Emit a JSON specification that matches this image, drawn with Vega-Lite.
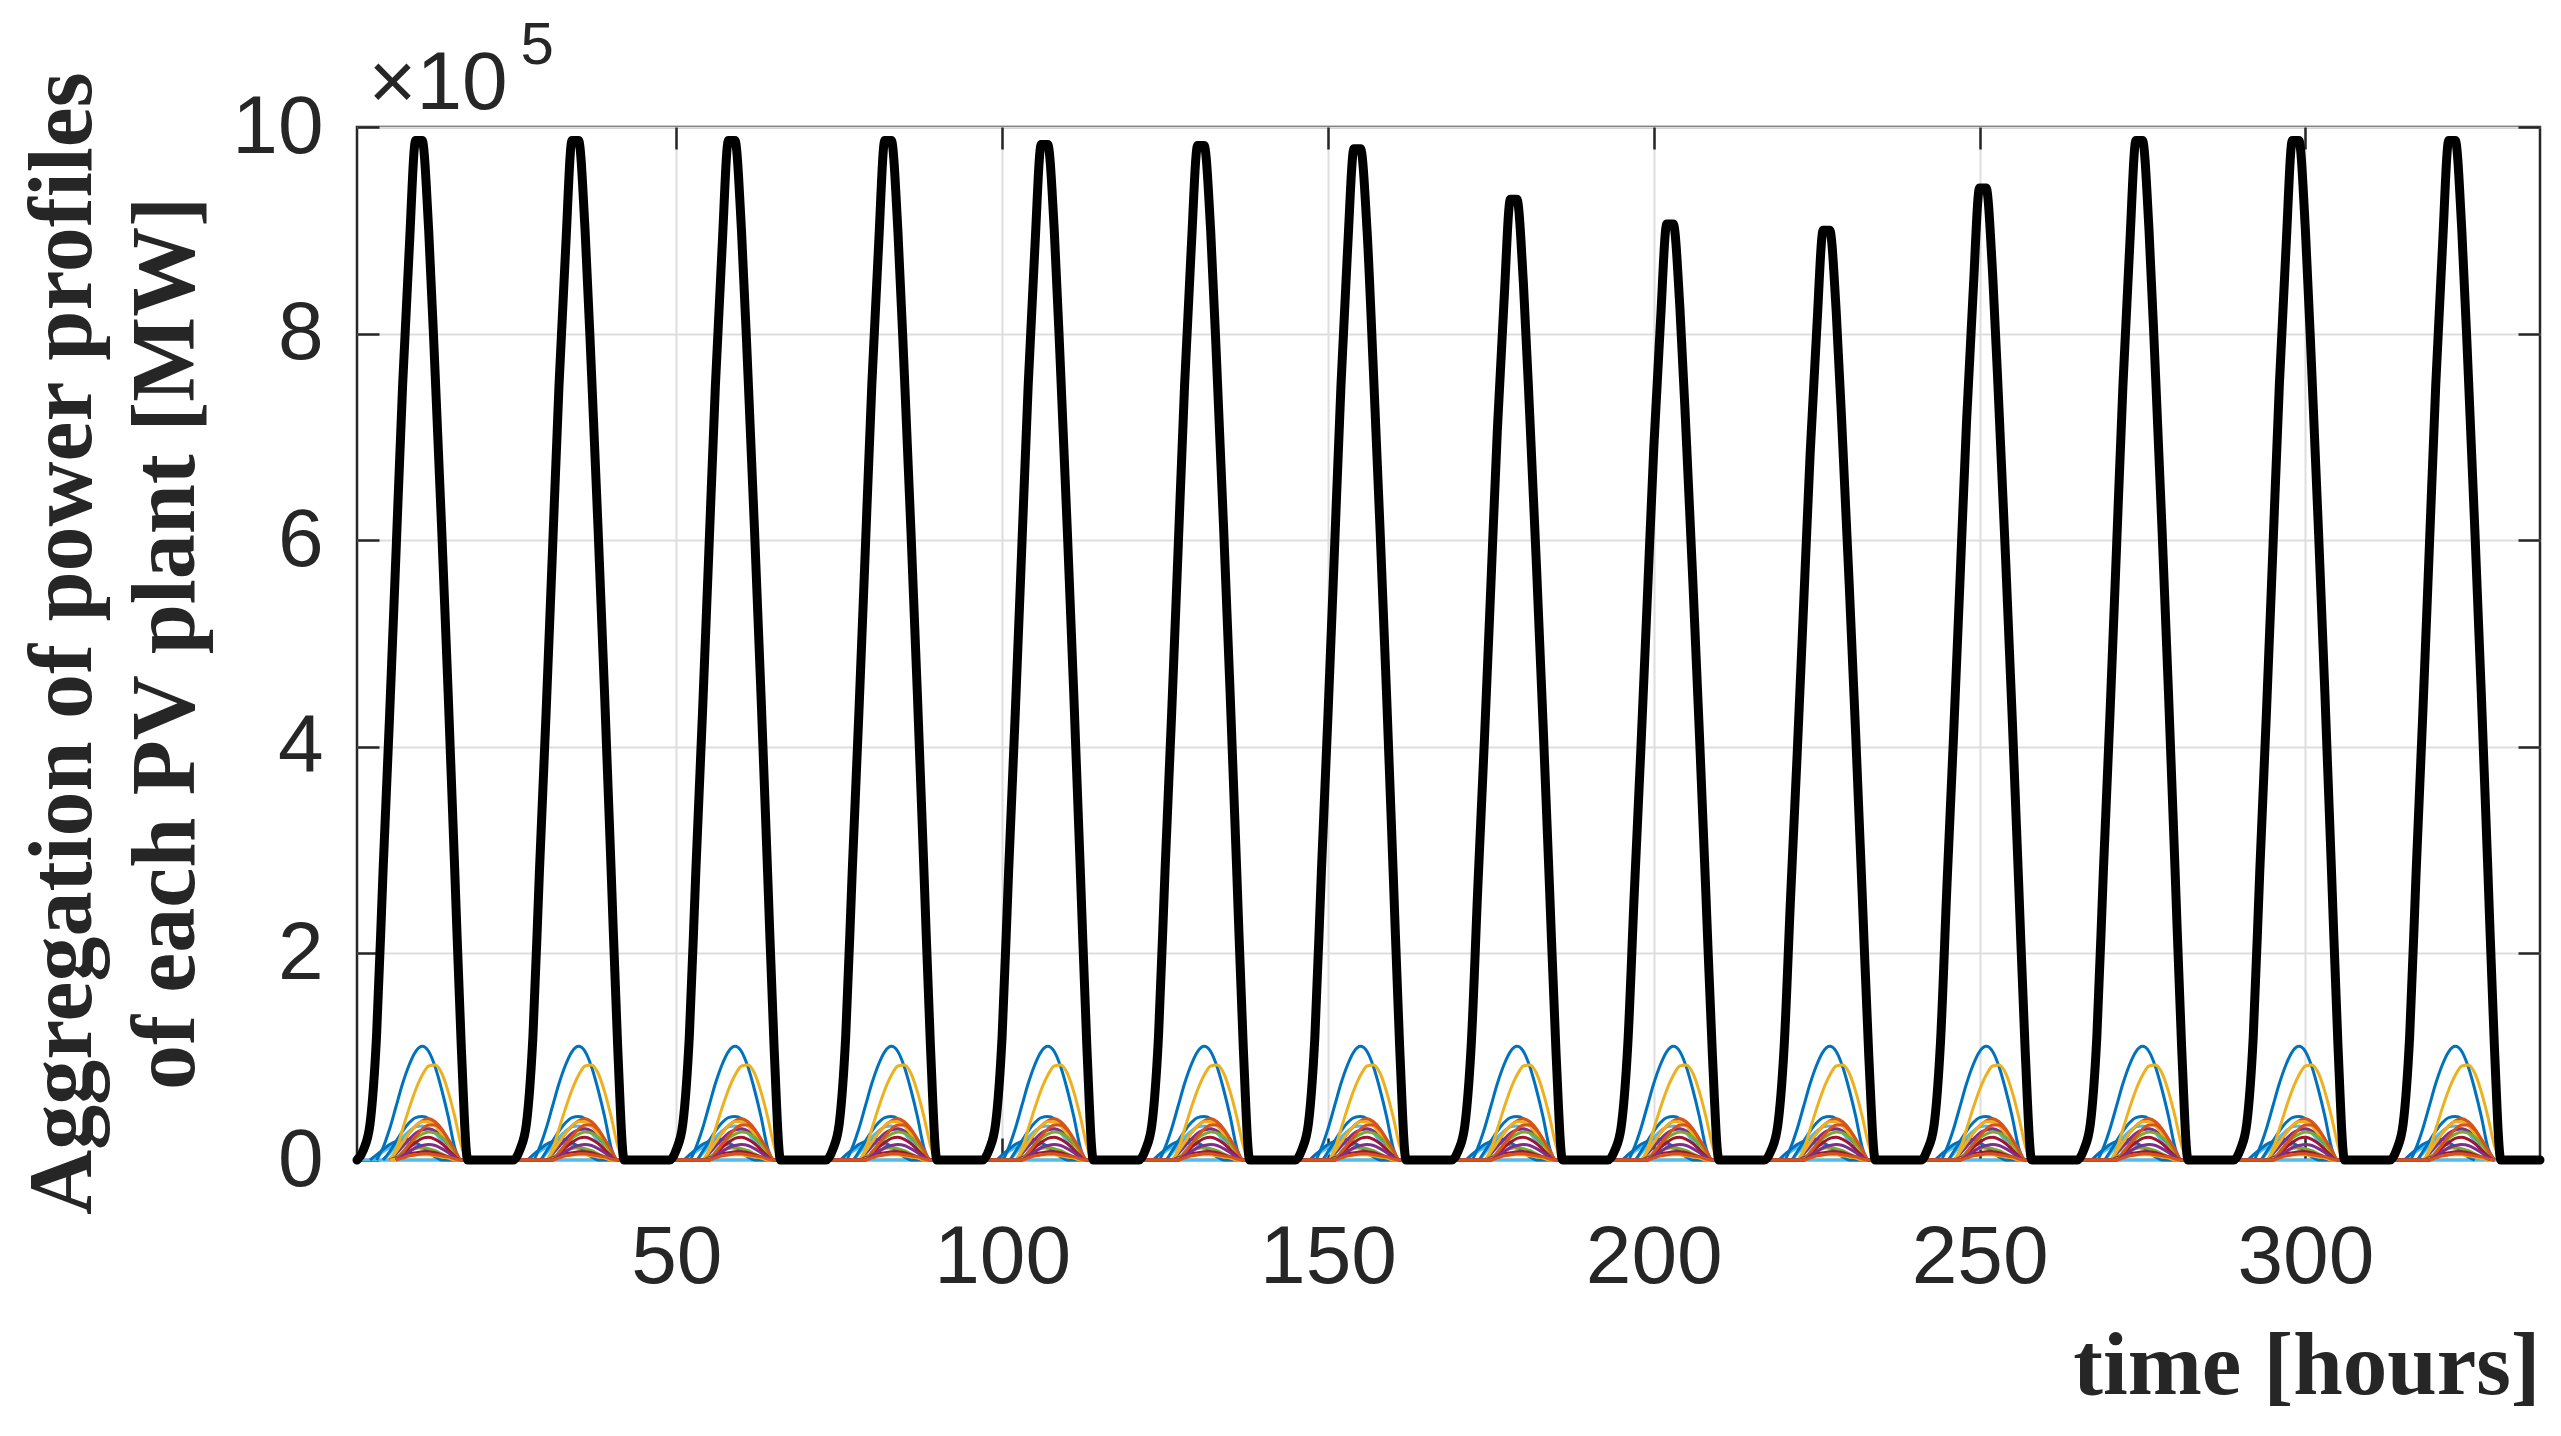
{
"$schema":"https://vega.github.io/schema/vega-lite/v6.json",
"width":2183,"height":1033,
"autosize":{"type":"none"},
"padding":{"left":357,"top":127,"right":21,"bottom":276},
"background":"white",
"config":{"view":{"stroke":"#262626","strokeWidth":2.5},"axis":{"labelFont":"Liberation Sans","labelColor":"#262626","tickColor":"#262626","tickWidth":2.5,"titleColor":"#262626"}},
"data":{"values":[
{"t":1,"P":0,"r":0},{"t":2,"P":0.1},{"t":3,"P":0.35,"m":0,"o":0},{"t":4,"P":1.2,"a":0,"m":0.04,"o":0.05},{"t":5,"P":2.8,"a":0.12,"f":0,"h":0,"m":0.08,"o":0.1},
{"t":6,"P":4.3,"a":0.3,"b":0,"c":0,"d":0,"f":0.06,"h":0.08,"j":0,"l":0,"m":0.12,"n":0,"o":0.15,"q":0},
{"t":7,"P":5.9,"a":0.52,"b":0.08,"c":0.1,"d":0.06,"e":0,"f":0.14,"g":0,"h":0.18,"i":0,"j":0.08,"k":0,"l":0.03,"m":0.15,"n":0.02,"o":0.18,"p":0,"q":0.01},
{"t":8,"P":7.5,"a":0.74,"b":0.17,"c":0.3,"d":0.13,"e":0.08,"f":0.22,"g":0.06,"h":0.28,"i":0.07,"j":0.17,"k":0.04,"l":0.06,"m":0.16,"n":0.04,"o":0.2,"p":0.02,"q":0.03},
{"t":9,"P":8.8,"a":0.92,"b":0.26,"c":0.5,"d":0.2,"e":0.15,"f":0.28,"g":0.12,"h":0.36,"i":0.15,"j":0.26,"k":0.08,"l":0.09,"m":0.16,"n":0.06,"o":0.2,"p":0.04,"q":0.04},
{"t":10,"P":9.87,"a":1.05,"b":0.33,"c":0.68,"d":0.26,"e":0.21,"f":0.32,"g":0.17,"h":0.41,"i":0.23,"j":0.33,"k":0.12,"l":0.11,"m":0.14,"n":0.07,"o":0.17,"p":0.05,"q":0.05},
{"t":11,"P":9.87,"a":1.1,"b":0.38,"c":0.82,"d":0.29,"e":0.25,"f":0.33,"g":0.21,"h":0.42,"i":0.3,"j":0.37,"k":0.14,"l":0.12,"m":0.11,"n":0.08,"o":0.13,"p":0.06,"q":0.05},
{"t":12,"P":9.0,"a":1.05,"b":0.4,"c":0.91,"d":0.3,"e":0.27,"f":0.31,"g":0.22,"h":0.4,"i":0.34,"j":0.37,"k":0.15,"l":0.11,"m":0.07,"n":0.08,"o":0.08,"p":0.06,"q":0.05},
{"t":13,"P":7.6,"a":0.9,"b":0.37,"c":0.92,"d":0.28,"e":0.26,"f":0.26,"g":0.2,"h":0.34,"i":0.34,"j":0.33,"k":0.14,"l":0.09,"m":0.03,"n":0.07,"o":0.03,"p":0.05,"q":0.04},
{"t":14,"P":6.1,"a":0.68,"b":0.3,"c":0.84,"d":0.22,"e":0.22,"f":0.18,"g":0.16,"h":0.25,"i":0.29,"j":0.25,"k":0.11,"l":0.06,"m":0,"n":0.05,"o":0,"p":0.04,"q":0.03},
{"t":15,"P":4.5,"a":0.42,"b":0.2,"c":0.66,"d":0.15,"e":0.16,"f":0.09,"g":0.1,"h":0.14,"i":0.2,"j":0.15,"k":0.07,"l":0.03,"n":0.03,"p":0.03,"q":0.02},
{"t":16,"P":2.8,"a":0.12,"b":0.09,"c":0.42,"d":0.07,"e":0.08,"f":0,"g":0.04,"h":0.03,"i":0.1,"j":0.05,"k":0.03,"l":0,"n":0.01,"p":0.01,"q":0},
{"t":17,"P":1.1,"a":0,"b":0,"c":0.14,"d":0,"e":0,"g":0,"h":0,"i":0,"j":0,"k":0,"n":0,"p":0},
{"t":18,"P":0,"c":0},{"t":19,"P":0,"r":0},{"t":20,"P":0},{"t":21,"P":0},{"t":22,"P":0},{"t":23,"P":0},{"t":24,"P":0},

{"t":25,"P":0,"r":0},{"t":26,"P":0.1},{"t":27,"P":0.35,"m":0,"o":0},{"t":28,"P":1.2,"a":0,"m":0.04,"o":0.05},{"t":29,"P":2.8,"a":0.12,"f":0,"h":0,"m":0.08,"o":0.1},
{"t":30,"P":4.3,"a":0.3,"b":0,"c":0,"d":0,"f":0.06,"h":0.08,"j":0,"l":0,"m":0.12,"n":0,"o":0.15,"q":0},
{"t":31,"P":5.9,"a":0.52,"b":0.08,"c":0.1,"d":0.06,"e":0,"f":0.14,"g":0,"h":0.18,"i":0,"j":0.08,"k":0,"l":0.03,"m":0.15,"n":0.02,"o":0.18,"p":0,"q":0.01},
{"t":32,"P":7.5,"a":0.74,"b":0.17,"c":0.3,"d":0.13,"e":0.08,"f":0.22,"g":0.06,"h":0.28,"i":0.07,"j":0.17,"k":0.04,"l":0.06,"m":0.16,"n":0.04,"o":0.2,"p":0.02,"q":0.03},
{"t":33,"P":8.8,"a":0.92,"b":0.26,"c":0.5,"d":0.2,"e":0.15,"f":0.28,"g":0.12,"h":0.36,"i":0.15,"j":0.26,"k":0.08,"l":0.09,"m":0.16,"n":0.06,"o":0.2,"p":0.04,"q":0.04},
{"t":34,"P":9.87,"a":1.05,"b":0.33,"c":0.68,"d":0.26,"e":0.21,"f":0.32,"g":0.17,"h":0.41,"i":0.23,"j":0.33,"k":0.12,"l":0.11,"m":0.14,"n":0.07,"o":0.17,"p":0.05,"q":0.05},
{"t":35,"P":9.87,"a":1.1,"b":0.38,"c":0.82,"d":0.29,"e":0.25,"f":0.33,"g":0.21,"h":0.42,"i":0.3,"j":0.37,"k":0.14,"l":0.12,"m":0.11,"n":0.08,"o":0.13,"p":0.06,"q":0.05},
{"t":36,"P":9.0,"a":1.05,"b":0.4,"c":0.91,"d":0.3,"e":0.27,"f":0.31,"g":0.22,"h":0.4,"i":0.34,"j":0.37,"k":0.15,"l":0.11,"m":0.07,"n":0.08,"o":0.08,"p":0.06,"q":0.05},
{"t":37,"P":7.6,"a":0.9,"b":0.37,"c":0.92,"d":0.28,"e":0.26,"f":0.26,"g":0.2,"h":0.34,"i":0.34,"j":0.33,"k":0.14,"l":0.09,"m":0.03,"n":0.07,"o":0.03,"p":0.05,"q":0.04},
{"t":38,"P":6.1,"a":0.68,"b":0.3,"c":0.84,"d":0.22,"e":0.22,"f":0.18,"g":0.16,"h":0.25,"i":0.29,"j":0.25,"k":0.11,"l":0.06,"m":0,"n":0.05,"o":0,"p":0.04,"q":0.03},
{"t":39,"P":4.5,"a":0.42,"b":0.2,"c":0.66,"d":0.15,"e":0.16,"f":0.09,"g":0.1,"h":0.14,"i":0.2,"j":0.15,"k":0.07,"l":0.03,"n":0.03,"p":0.03,"q":0.02},
{"t":40,"P":2.8,"a":0.12,"b":0.09,"c":0.42,"d":0.07,"e":0.08,"f":0,"g":0.04,"h":0.03,"i":0.1,"j":0.05,"k":0.03,"l":0,"n":0.01,"p":0.01,"q":0},
{"t":41,"P":1.1,"a":0,"b":0,"c":0.14,"d":0,"e":0,"g":0,"h":0,"i":0,"j":0,"k":0,"n":0,"p":0},
{"t":42,"P":0,"c":0},{"t":43,"P":0,"r":0},{"t":44,"P":0},{"t":45,"P":0},{"t":46,"P":0},{"t":47,"P":0},{"t":48,"P":0},

{"t":49,"P":0,"r":0},{"t":50,"P":0.1},{"t":51,"P":0.35,"m":0,"o":0},{"t":52,"P":1.2,"a":0,"m":0.04,"o":0.05},{"t":53,"P":2.8,"a":0.12,"f":0,"h":0,"m":0.08,"o":0.1},
{"t":54,"P":4.3,"a":0.3,"b":0,"c":0,"d":0,"f":0.06,"h":0.08,"j":0,"l":0,"m":0.12,"n":0,"o":0.15,"q":0},
{"t":55,"P":5.9,"a":0.52,"b":0.08,"c":0.1,"d":0.06,"e":0,"f":0.14,"g":0,"h":0.18,"i":0,"j":0.08,"k":0,"l":0.03,"m":0.15,"n":0.02,"o":0.18,"p":0,"q":0.01},
{"t":56,"P":7.5,"a":0.74,"b":0.17,"c":0.3,"d":0.13,"e":0.08,"f":0.22,"g":0.06,"h":0.28,"i":0.07,"j":0.17,"k":0.04,"l":0.06,"m":0.16,"n":0.04,"o":0.2,"p":0.02,"q":0.03},
{"t":57,"P":8.8,"a":0.92,"b":0.26,"c":0.5,"d":0.2,"e":0.15,"f":0.28,"g":0.12,"h":0.36,"i":0.15,"j":0.26,"k":0.08,"l":0.09,"m":0.16,"n":0.06,"o":0.2,"p":0.04,"q":0.04},
{"t":58,"P":9.87,"a":1.05,"b":0.33,"c":0.68,"d":0.26,"e":0.21,"f":0.32,"g":0.17,"h":0.41,"i":0.23,"j":0.33,"k":0.12,"l":0.11,"m":0.14,"n":0.07,"o":0.17,"p":0.05,"q":0.05},
{"t":59,"P":9.87,"a":1.1,"b":0.38,"c":0.82,"d":0.29,"e":0.25,"f":0.33,"g":0.21,"h":0.42,"i":0.3,"j":0.37,"k":0.14,"l":0.12,"m":0.11,"n":0.08,"o":0.13,"p":0.06,"q":0.05},
{"t":60,"P":9.0,"a":1.05,"b":0.4,"c":0.91,"d":0.3,"e":0.27,"f":0.31,"g":0.22,"h":0.4,"i":0.34,"j":0.37,"k":0.15,"l":0.11,"m":0.07,"n":0.08,"o":0.08,"p":0.06,"q":0.05},
{"t":61,"P":7.6,"a":0.9,"b":0.37,"c":0.92,"d":0.28,"e":0.26,"f":0.26,"g":0.2,"h":0.34,"i":0.34,"j":0.33,"k":0.14,"l":0.09,"m":0.03,"n":0.07,"o":0.03,"p":0.05,"q":0.04},
{"t":62,"P":6.1,"a":0.68,"b":0.3,"c":0.84,"d":0.22,"e":0.22,"f":0.18,"g":0.16,"h":0.25,"i":0.29,"j":0.25,"k":0.11,"l":0.06,"m":0,"n":0.05,"o":0,"p":0.04,"q":0.03},
{"t":63,"P":4.5,"a":0.42,"b":0.2,"c":0.66,"d":0.15,"e":0.16,"f":0.09,"g":0.1,"h":0.14,"i":0.2,"j":0.15,"k":0.07,"l":0.03,"n":0.03,"p":0.03,"q":0.02},
{"t":64,"P":2.8,"a":0.12,"b":0.09,"c":0.42,"d":0.07,"e":0.08,"f":0,"g":0.04,"h":0.03,"i":0.1,"j":0.05,"k":0.03,"l":0,"n":0.01,"p":0.01,"q":0},
{"t":65,"P":1.1,"a":0,"b":0,"c":0.14,"d":0,"e":0,"g":0,"h":0,"i":0,"j":0,"k":0,"n":0,"p":0},
{"t":66,"P":0,"c":0},{"t":67,"P":0,"r":0},{"t":68,"P":0},{"t":69,"P":0},{"t":70,"P":0},{"t":71,"P":0},{"t":72,"P":0},

{"t":73,"P":0,"r":0},{"t":74,"P":0.1},{"t":75,"P":0.35,"m":0,"o":0},{"t":76,"P":1.2,"a":0,"m":0.04,"o":0.05},{"t":77,"P":2.8,"a":0.12,"f":0,"h":0,"m":0.08,"o":0.1},
{"t":78,"P":4.3,"a":0.3,"b":0,"c":0,"d":0,"f":0.06,"h":0.08,"j":0,"l":0,"m":0.12,"n":0,"o":0.15,"q":0},
{"t":79,"P":5.9,"a":0.52,"b":0.08,"c":0.1,"d":0.06,"e":0,"f":0.14,"g":0,"h":0.18,"i":0,"j":0.08,"k":0,"l":0.03,"m":0.15,"n":0.02,"o":0.18,"p":0,"q":0.01},
{"t":80,"P":7.5,"a":0.74,"b":0.17,"c":0.3,"d":0.13,"e":0.08,"f":0.22,"g":0.06,"h":0.28,"i":0.07,"j":0.17,"k":0.04,"l":0.06,"m":0.16,"n":0.04,"o":0.2,"p":0.02,"q":0.03},
{"t":81,"P":8.8,"a":0.92,"b":0.26,"c":0.5,"d":0.2,"e":0.15,"f":0.28,"g":0.12,"h":0.36,"i":0.15,"j":0.26,"k":0.08,"l":0.09,"m":0.16,"n":0.06,"o":0.2,"p":0.04,"q":0.04},
{"t":82,"P":9.87,"a":1.05,"b":0.33,"c":0.68,"d":0.26,"e":0.21,"f":0.32,"g":0.17,"h":0.41,"i":0.23,"j":0.33,"k":0.12,"l":0.11,"m":0.14,"n":0.07,"o":0.17,"p":0.05,"q":0.05},
{"t":83,"P":9.87,"a":1.1,"b":0.38,"c":0.82,"d":0.29,"e":0.25,"f":0.33,"g":0.21,"h":0.42,"i":0.3,"j":0.37,"k":0.14,"l":0.12,"m":0.11,"n":0.08,"o":0.13,"p":0.06,"q":0.05},
{"t":84,"P":9.0,"a":1.05,"b":0.4,"c":0.91,"d":0.3,"e":0.27,"f":0.31,"g":0.22,"h":0.4,"i":0.34,"j":0.37,"k":0.15,"l":0.11,"m":0.07,"n":0.08,"o":0.08,"p":0.06,"q":0.05},
{"t":85,"P":7.6,"a":0.9,"b":0.37,"c":0.92,"d":0.28,"e":0.26,"f":0.26,"g":0.2,"h":0.34,"i":0.34,"j":0.33,"k":0.14,"l":0.09,"m":0.03,"n":0.07,"o":0.03,"p":0.05,"q":0.04},
{"t":86,"P":6.1,"a":0.68,"b":0.3,"c":0.84,"d":0.22,"e":0.22,"f":0.18,"g":0.16,"h":0.25,"i":0.29,"j":0.25,"k":0.11,"l":0.06,"m":0,"n":0.05,"o":0,"p":0.04,"q":0.03},
{"t":87,"P":4.5,"a":0.42,"b":0.2,"c":0.66,"d":0.15,"e":0.16,"f":0.09,"g":0.1,"h":0.14,"i":0.2,"j":0.15,"k":0.07,"l":0.03,"n":0.03,"p":0.03,"q":0.02},
{"t":88,"P":2.8,"a":0.12,"b":0.09,"c":0.42,"d":0.07,"e":0.08,"f":0,"g":0.04,"h":0.03,"i":0.1,"j":0.05,"k":0.03,"l":0,"n":0.01,"p":0.01,"q":0},
{"t":89,"P":1.1,"a":0,"b":0,"c":0.14,"d":0,"e":0,"g":0,"h":0,"i":0,"j":0,"k":0,"n":0,"p":0},
{"t":90,"P":0,"c":0},{"t":91,"P":0,"r":0},{"t":92,"P":0},{"t":93,"P":0},{"t":94,"P":0},{"t":95,"P":0},{"t":96,"P":0},

{"t":97,"P":0,"r":0},{"t":98,"P":0.1},{"t":99,"P":0.35,"m":0,"o":0},{"t":100,"P":1.2,"a":0,"m":0.04,"o":0.05},{"t":101,"P":2.8,"a":0.12,"f":0,"h":0,"m":0.08,"o":0.1},
{"t":102,"P":4.3,"a":0.3,"b":0,"c":0,"d":0,"f":0.06,"h":0.08,"j":0,"l":0,"m":0.12,"n":0,"o":0.15,"q":0},
{"t":103,"P":5.9,"a":0.52,"b":0.08,"c":0.1,"d":0.06,"e":0,"f":0.14,"g":0,"h":0.18,"i":0,"j":0.08,"k":0,"l":0.03,"m":0.15,"n":0.02,"o":0.18,"p":0,"q":0.01},
{"t":104,"P":7.5,"a":0.74,"b":0.17,"c":0.3,"d":0.13,"e":0.08,"f":0.22,"g":0.06,"h":0.28,"i":0.07,"j":0.17,"k":0.04,"l":0.06,"m":0.16,"n":0.04,"o":0.2,"p":0.02,"q":0.03},
{"t":105,"P":8.8,"a":0.92,"b":0.26,"c":0.5,"d":0.2,"e":0.15,"f":0.28,"g":0.12,"h":0.36,"i":0.15,"j":0.26,"k":0.08,"l":0.09,"m":0.16,"n":0.06,"o":0.2,"p":0.04,"q":0.04},
{"t":106,"P":9.83,"a":1.05,"b":0.33,"c":0.68,"d":0.26,"e":0.21,"f":0.32,"g":0.17,"h":0.41,"i":0.23,"j":0.33,"k":0.12,"l":0.11,"m":0.14,"n":0.07,"o":0.17,"p":0.05,"q":0.05},
{"t":107,"P":9.83,"a":1.1,"b":0.38,"c":0.82,"d":0.29,"e":0.25,"f":0.33,"g":0.21,"h":0.42,"i":0.3,"j":0.37,"k":0.14,"l":0.12,"m":0.11,"n":0.08,"o":0.13,"p":0.06,"q":0.05},
{"t":108,"P":9.0,"a":1.05,"b":0.4,"c":0.91,"d":0.3,"e":0.27,"f":0.31,"g":0.22,"h":0.4,"i":0.34,"j":0.37,"k":0.15,"l":0.11,"m":0.07,"n":0.08,"o":0.08,"p":0.06,"q":0.05},
{"t":109,"P":7.6,"a":0.9,"b":0.37,"c":0.92,"d":0.28,"e":0.26,"f":0.26,"g":0.2,"h":0.34,"i":0.34,"j":0.33,"k":0.14,"l":0.09,"m":0.03,"n":0.07,"o":0.03,"p":0.05,"q":0.04},
{"t":110,"P":6.1,"a":0.68,"b":0.3,"c":0.84,"d":0.22,"e":0.22,"f":0.18,"g":0.16,"h":0.25,"i":0.29,"j":0.25,"k":0.11,"l":0.06,"m":0,"n":0.05,"o":0,"p":0.04,"q":0.03},
{"t":111,"P":4.5,"a":0.42,"b":0.2,"c":0.66,"d":0.15,"e":0.16,"f":0.09,"g":0.1,"h":0.14,"i":0.2,"j":0.15,"k":0.07,"l":0.03,"n":0.03,"p":0.03,"q":0.02},
{"t":112,"P":2.8,"a":0.12,"b":0.09,"c":0.42,"d":0.07,"e":0.08,"f":0,"g":0.04,"h":0.03,"i":0.1,"j":0.05,"k":0.03,"l":0,"n":0.01,"p":0.01,"q":0},
{"t":113,"P":1.1,"a":0,"b":0,"c":0.14,"d":0,"e":0,"g":0,"h":0,"i":0,"j":0,"k":0,"n":0,"p":0},
{"t":114,"P":0,"c":0},{"t":115,"P":0,"r":0},{"t":116,"P":0},{"t":117,"P":0},{"t":118,"P":0},{"t":119,"P":0},{"t":120,"P":0},

{"t":121,"P":0,"r":0},{"t":122,"P":0.1},{"t":123,"P":0.35,"m":0,"o":0},{"t":124,"P":1.2,"a":0,"m":0.04,"o":0.05},{"t":125,"P":2.8,"a":0.12,"f":0,"h":0,"m":0.08,"o":0.1},
{"t":126,"P":4.3,"a":0.3,"b":0,"c":0,"d":0,"f":0.06,"h":0.08,"j":0,"l":0,"m":0.12,"n":0,"o":0.15,"q":0},
{"t":127,"P":5.9,"a":0.52,"b":0.08,"c":0.1,"d":0.06,"e":0,"f":0.14,"g":0,"h":0.18,"i":0,"j":0.08,"k":0,"l":0.03,"m":0.15,"n":0.02,"o":0.18,"p":0,"q":0.01},
{"t":128,"P":7.5,"a":0.74,"b":0.17,"c":0.3,"d":0.13,"e":0.08,"f":0.22,"g":0.06,"h":0.28,"i":0.07,"j":0.17,"k":0.04,"l":0.06,"m":0.16,"n":0.04,"o":0.2,"p":0.02,"q":0.03},
{"t":129,"P":8.8,"a":0.92,"b":0.26,"c":0.5,"d":0.2,"e":0.15,"f":0.28,"g":0.12,"h":0.36,"i":0.15,"j":0.26,"k":0.08,"l":0.09,"m":0.16,"n":0.06,"o":0.2,"p":0.04,"q":0.04},
{"t":130,"P":9.82,"a":1.05,"b":0.33,"c":0.68,"d":0.26,"e":0.21,"f":0.32,"g":0.17,"h":0.41,"i":0.23,"j":0.33,"k":0.12,"l":0.11,"m":0.14,"n":0.07,"o":0.17,"p":0.05,"q":0.05},
{"t":131,"P":9.82,"a":1.1,"b":0.38,"c":0.82,"d":0.29,"e":0.25,"f":0.33,"g":0.21,"h":0.42,"i":0.3,"j":0.37,"k":0.14,"l":0.12,"m":0.11,"n":0.08,"o":0.13,"p":0.06,"q":0.05},
{"t":132,"P":9.0,"a":1.05,"b":0.4,"c":0.91,"d":0.3,"e":0.27,"f":0.31,"g":0.22,"h":0.4,"i":0.34,"j":0.37,"k":0.15,"l":0.11,"m":0.07,"n":0.08,"o":0.08,"p":0.06,"q":0.05},
{"t":133,"P":7.6,"a":0.9,"b":0.37,"c":0.92,"d":0.28,"e":0.26,"f":0.26,"g":0.2,"h":0.34,"i":0.34,"j":0.33,"k":0.14,"l":0.09,"m":0.03,"n":0.07,"o":0.03,"p":0.05,"q":0.04},
{"t":134,"P":6.1,"a":0.68,"b":0.3,"c":0.84,"d":0.22,"e":0.22,"f":0.18,"g":0.16,"h":0.25,"i":0.29,"j":0.25,"k":0.11,"l":0.06,"m":0,"n":0.05,"o":0,"p":0.04,"q":0.03},
{"t":135,"P":4.5,"a":0.42,"b":0.2,"c":0.66,"d":0.15,"e":0.16,"f":0.09,"g":0.1,"h":0.14,"i":0.2,"j":0.15,"k":0.07,"l":0.03,"n":0.03,"p":0.03,"q":0.02},
{"t":136,"P":2.8,"a":0.12,"b":0.09,"c":0.42,"d":0.07,"e":0.08,"f":0,"g":0.04,"h":0.03,"i":0.1,"j":0.05,"k":0.03,"l":0,"n":0.01,"p":0.01,"q":0},
{"t":137,"P":1.1,"a":0,"b":0,"c":0.14,"d":0,"e":0,"g":0,"h":0,"i":0,"j":0,"k":0,"n":0,"p":0},
{"t":138,"P":0,"c":0},{"t":139,"P":0,"r":0},{"t":140,"P":0},{"t":141,"P":0},{"t":142,"P":0},{"t":143,"P":0},{"t":144,"P":0},

{"t":145,"P":0,"r":0},{"t":146,"P":0.1},{"t":147,"P":0.35,"m":0,"o":0},{"t":148,"P":1.2,"a":0,"m":0.04,"o":0.05},{"t":149,"P":2.8,"a":0.12,"f":0,"h":0,"m":0.08,"o":0.1},
{"t":150,"P":4.3,"a":0.3,"b":0,"c":0,"d":0,"f":0.06,"h":0.08,"j":0,"l":0,"m":0.12,"n":0,"o":0.15,"q":0},
{"t":151,"P":5.9,"a":0.52,"b":0.08,"c":0.1,"d":0.06,"e":0,"f":0.14,"g":0,"h":0.18,"i":0,"j":0.08,"k":0,"l":0.03,"m":0.15,"n":0.02,"o":0.18,"p":0,"q":0.01},
{"t":152,"P":7.5,"a":0.74,"b":0.17,"c":0.3,"d":0.13,"e":0.08,"f":0.22,"g":0.06,"h":0.28,"i":0.07,"j":0.17,"k":0.04,"l":0.06,"m":0.16,"n":0.04,"o":0.2,"p":0.02,"q":0.03},
{"t":153,"P":8.8,"a":0.92,"b":0.26,"c":0.5,"d":0.2,"e":0.15,"f":0.28,"g":0.12,"h":0.36,"i":0.15,"j":0.26,"k":0.08,"l":0.09,"m":0.16,"n":0.06,"o":0.2,"p":0.04,"q":0.04},
{"t":154,"P":9.79,"a":1.05,"b":0.33,"c":0.68,"d":0.26,"e":0.21,"f":0.32,"g":0.17,"h":0.41,"i":0.23,"j":0.33,"k":0.12,"l":0.11,"m":0.14,"n":0.07,"o":0.17,"p":0.05,"q":0.05},
{"t":155,"P":9.79,"a":1.1,"b":0.38,"c":0.82,"d":0.29,"e":0.25,"f":0.33,"g":0.21,"h":0.42,"i":0.3,"j":0.37,"k":0.14,"l":0.12,"m":0.11,"n":0.08,"o":0.13,"p":0.06,"q":0.05},
{"t":156,"P":9.0,"a":1.05,"b":0.4,"c":0.91,"d":0.3,"e":0.27,"f":0.31,"g":0.22,"h":0.4,"i":0.34,"j":0.37,"k":0.15,"l":0.11,"m":0.07,"n":0.08,"o":0.08,"p":0.06,"q":0.05},
{"t":157,"P":7.6,"a":0.9,"b":0.37,"c":0.92,"d":0.28,"e":0.26,"f":0.26,"g":0.2,"h":0.34,"i":0.34,"j":0.33,"k":0.14,"l":0.09,"m":0.03,"n":0.07,"o":0.03,"p":0.05,"q":0.04},
{"t":158,"P":6.1,"a":0.68,"b":0.3,"c":0.84,"d":0.22,"e":0.22,"f":0.18,"g":0.16,"h":0.25,"i":0.29,"j":0.25,"k":0.11,"l":0.06,"m":0,"n":0.05,"o":0,"p":0.04,"q":0.03},
{"t":159,"P":4.5,"a":0.42,"b":0.2,"c":0.66,"d":0.15,"e":0.16,"f":0.09,"g":0.1,"h":0.14,"i":0.2,"j":0.15,"k":0.07,"l":0.03,"n":0.03,"p":0.03,"q":0.02},
{"t":160,"P":2.8,"a":0.12,"b":0.09,"c":0.42,"d":0.07,"e":0.08,"f":0,"g":0.04,"h":0.03,"i":0.1,"j":0.05,"k":0.03,"l":0,"n":0.01,"p":0.01,"q":0},
{"t":161,"P":1.1,"a":0,"b":0,"c":0.14,"d":0,"e":0,"g":0,"h":0,"i":0,"j":0,"k":0,"n":0,"p":0},
{"t":162,"P":0,"c":0},{"t":163,"P":0,"r":0},{"t":164,"P":0},{"t":165,"P":0},{"t":166,"P":0},{"t":167,"P":0},{"t":168,"P":0},

{"t":169,"P":0,"r":0},{"t":170,"P":0.09},{"t":171,"P":0.33,"m":0,"o":0},{"t":172,"P":1.13,"a":0,"m":0.04,"o":0.05},{"t":173,"P":2.64,"a":0.12,"f":0,"h":0,"m":0.08,"o":0.1},
{"t":174,"P":4.05,"a":0.3,"b":0,"c":0,"d":0,"f":0.06,"h":0.08,"j":0,"l":0,"m":0.12,"n":0,"o":0.15,"q":0},
{"t":175,"P":5.56,"a":0.52,"b":0.08,"c":0.1,"d":0.06,"e":0,"f":0.14,"g":0,"h":0.18,"i":0,"j":0.08,"k":0,"l":0.03,"m":0.15,"n":0.02,"o":0.18,"p":0,"q":0.01},
{"t":176,"P":7.07,"a":0.74,"b":0.17,"c":0.3,"d":0.13,"e":0.08,"f":0.22,"g":0.06,"h":0.28,"i":0.07,"j":0.17,"k":0.04,"l":0.06,"m":0.16,"n":0.04,"o":0.2,"p":0.02,"q":0.03},
{"t":177,"P":8.29,"a":0.92,"b":0.26,"c":0.5,"d":0.2,"e":0.15,"f":0.28,"g":0.12,"h":0.36,"i":0.15,"j":0.26,"k":0.08,"l":0.09,"m":0.16,"n":0.06,"o":0.2,"p":0.04,"q":0.04},
{"t":178,"P":9.3,"a":1.05,"b":0.33,"c":0.68,"d":0.26,"e":0.21,"f":0.32,"g":0.17,"h":0.41,"i":0.23,"j":0.33,"k":0.12,"l":0.11,"m":0.14,"n":0.07,"o":0.17,"p":0.05,"q":0.05},
{"t":179,"P":9.3,"a":1.1,"b":0.38,"c":0.82,"d":0.29,"e":0.25,"f":0.33,"g":0.21,"h":0.42,"i":0.3,"j":0.37,"k":0.14,"l":0.12,"m":0.11,"n":0.08,"o":0.13,"p":0.06,"q":0.05},
{"t":180,"P":8.48,"a":1.05,"b":0.4,"c":0.91,"d":0.3,"e":0.27,"f":0.31,"g":0.22,"h":0.4,"i":0.34,"j":0.37,"k":0.15,"l":0.11,"m":0.07,"n":0.08,"o":0.08,"p":0.06,"q":0.05},
{"t":181,"P":7.16,"a":0.9,"b":0.37,"c":0.92,"d":0.28,"e":0.26,"f":0.26,"g":0.2,"h":0.34,"i":0.34,"j":0.33,"k":0.14,"l":0.09,"m":0.03,"n":0.07,"o":0.03,"p":0.05,"q":0.04},
{"t":182,"P":5.75,"a":0.68,"b":0.3,"c":0.84,"d":0.22,"e":0.22,"f":0.18,"g":0.16,"h":0.25,"i":0.29,"j":0.25,"k":0.11,"l":0.06,"m":0,"n":0.05,"o":0,"p":0.04,"q":0.03},
{"t":183,"P":4.24,"a":0.42,"b":0.2,"c":0.66,"d":0.15,"e":0.16,"f":0.09,"g":0.1,"h":0.14,"i":0.2,"j":0.15,"k":0.07,"l":0.03,"n":0.03,"p":0.03,"q":0.02},
{"t":184,"P":2.64,"a":0.12,"b":0.09,"c":0.42,"d":0.07,"e":0.08,"f":0,"g":0.04,"h":0.03,"i":0.1,"j":0.05,"k":0.03,"l":0,"n":0.01,"p":0.01,"q":0},
{"t":185,"P":1.04,"a":0,"b":0,"c":0.14,"d":0,"e":0,"g":0,"h":0,"i":0,"j":0,"k":0,"n":0,"p":0},
{"t":186,"P":0,"c":0},{"t":187,"P":0,"r":0},{"t":188,"P":0},{"t":189,"P":0},{"t":190,"P":0},{"t":191,"P":0},{"t":192,"P":0},

{"t":193,"P":0,"r":0},{"t":194,"P":0.09},{"t":195,"P":0.32,"m":0,"o":0},{"t":196,"P":1.1,"a":0,"m":0.04,"o":0.05},{"t":197,"P":2.57,"a":0.12,"f":0,"h":0,"m":0.08,"o":0.1},
{"t":198,"P":3.95,"a":0.3,"b":0,"c":0,"d":0,"f":0.06,"h":0.08,"j":0,"l":0,"m":0.12,"n":0,"o":0.15,"q":0},
{"t":199,"P":5.42,"a":0.52,"b":0.08,"c":0.1,"d":0.06,"e":0,"f":0.14,"g":0,"h":0.18,"i":0,"j":0.08,"k":0,"l":0.03,"m":0.15,"n":0.02,"o":0.18,"p":0,"q":0.01},
{"t":200,"P":6.89,"a":0.74,"b":0.17,"c":0.3,"d":0.13,"e":0.08,"f":0.22,"g":0.06,"h":0.28,"i":0.07,"j":0.17,"k":0.04,"l":0.06,"m":0.16,"n":0.04,"o":0.2,"p":0.02,"q":0.03},
{"t":201,"P":8.08,"a":0.92,"b":0.26,"c":0.5,"d":0.2,"e":0.15,"f":0.28,"g":0.12,"h":0.36,"i":0.15,"j":0.26,"k":0.08,"l":0.09,"m":0.16,"n":0.06,"o":0.2,"p":0.04,"q":0.04},
{"t":202,"P":9.06,"a":1.05,"b":0.33,"c":0.68,"d":0.26,"e":0.21,"f":0.32,"g":0.17,"h":0.41,"i":0.23,"j":0.33,"k":0.12,"l":0.11,"m":0.14,"n":0.07,"o":0.17,"p":0.05,"q":0.05},
{"t":203,"P":9.06,"a":1.1,"b":0.38,"c":0.82,"d":0.29,"e":0.25,"f":0.33,"g":0.21,"h":0.42,"i":0.3,"j":0.37,"k":0.14,"l":0.12,"m":0.11,"n":0.08,"o":0.13,"p":0.06,"q":0.05},
{"t":204,"P":8.26,"a":1.05,"b":0.4,"c":0.91,"d":0.3,"e":0.27,"f":0.31,"g":0.22,"h":0.4,"i":0.34,"j":0.37,"k":0.15,"l":0.11,"m":0.07,"n":0.08,"o":0.08,"p":0.06,"q":0.05},
{"t":205,"P":6.98,"a":0.9,"b":0.37,"c":0.92,"d":0.28,"e":0.26,"f":0.26,"g":0.2,"h":0.34,"i":0.34,"j":0.33,"k":0.14,"l":0.09,"m":0.03,"n":0.07,"o":0.03,"p":0.05,"q":0.04},
{"t":206,"P":5.6,"a":0.68,"b":0.3,"c":0.84,"d":0.22,"e":0.22,"f":0.18,"g":0.16,"h":0.25,"i":0.29,"j":0.25,"k":0.11,"l":0.06,"m":0,"n":0.05,"o":0,"p":0.04,"q":0.03},
{"t":207,"P":4.13,"a":0.42,"b":0.2,"c":0.66,"d":0.15,"e":0.16,"f":0.09,"g":0.1,"h":0.14,"i":0.2,"j":0.15,"k":0.07,"l":0.03,"n":0.03,"p":0.03,"q":0.02},
{"t":208,"P":2.57,"a":0.12,"b":0.09,"c":0.42,"d":0.07,"e":0.08,"f":0,"g":0.04,"h":0.03,"i":0.1,"j":0.05,"k":0.03,"l":0,"n":0.01,"p":0.01,"q":0},
{"t":209,"P":1.01,"a":0,"b":0,"c":0.14,"d":0,"e":0,"g":0,"h":0,"i":0,"j":0,"k":0,"n":0,"p":0},
{"t":210,"P":0,"c":0},{"t":211,"P":0,"r":0},{"t":212,"P":0},{"t":213,"P":0},{"t":214,"P":0},{"t":215,"P":0},{"t":216,"P":0},

{"t":217,"P":0,"r":0},{"t":218,"P":0.09},{"t":219,"P":0.32,"m":0,"o":0},{"t":220,"P":1.09,"a":0,"m":0.04,"o":0.05},{"t":221,"P":2.55,"a":0.12,"f":0,"h":0,"m":0.08,"o":0.1},
{"t":222,"P":3.92,"a":0.3,"b":0,"c":0,"d":0,"f":0.06,"h":0.08,"j":0,"l":0,"m":0.12,"n":0,"o":0.15,"q":0},
{"t":223,"P":5.38,"a":0.52,"b":0.08,"c":0.1,"d":0.06,"e":0,"f":0.14,"g":0,"h":0.18,"i":0,"j":0.08,"k":0,"l":0.03,"m":0.15,"n":0.02,"o":0.18,"p":0,"q":0.01},
{"t":224,"P":6.84,"a":0.74,"b":0.17,"c":0.3,"d":0.13,"e":0.08,"f":0.22,"g":0.06,"h":0.28,"i":0.07,"j":0.17,"k":0.04,"l":0.06,"m":0.16,"n":0.04,"o":0.2,"p":0.02,"q":0.03},
{"t":225,"P":8.03,"a":0.92,"b":0.26,"c":0.5,"d":0.2,"e":0.15,"f":0.28,"g":0.12,"h":0.36,"i":0.15,"j":0.26,"k":0.08,"l":0.09,"m":0.16,"n":0.06,"o":0.2,"p":0.04,"q":0.04},
{"t":226,"P":9.0,"a":1.05,"b":0.33,"c":0.68,"d":0.26,"e":0.21,"f":0.32,"g":0.17,"h":0.41,"i":0.23,"j":0.33,"k":0.12,"l":0.11,"m":0.14,"n":0.07,"o":0.17,"p":0.05,"q":0.05},
{"t":227,"P":9.0,"a":1.1,"b":0.38,"c":0.82,"d":0.29,"e":0.25,"f":0.33,"g":0.21,"h":0.42,"i":0.3,"j":0.37,"k":0.14,"l":0.12,"m":0.11,"n":0.08,"o":0.13,"p":0.06,"q":0.05},
{"t":228,"P":8.21,"a":1.05,"b":0.4,"c":0.91,"d":0.3,"e":0.27,"f":0.31,"g":0.22,"h":0.4,"i":0.34,"j":0.37,"k":0.15,"l":0.11,"m":0.07,"n":0.08,"o":0.08,"p":0.06,"q":0.05},
{"t":229,"P":6.93,"a":0.9,"b":0.37,"c":0.92,"d":0.28,"e":0.26,"f":0.26,"g":0.2,"h":0.34,"i":0.34,"j":0.33,"k":0.14,"l":0.09,"m":0.03,"n":0.07,"o":0.03,"p":0.05,"q":0.04},
{"t":230,"P":5.56,"a":0.68,"b":0.3,"c":0.84,"d":0.22,"e":0.22,"f":0.18,"g":0.16,"h":0.25,"i":0.29,"j":0.25,"k":0.11,"l":0.06,"m":0,"n":0.05,"o":0,"p":0.04,"q":0.03},
{"t":231,"P":4.1,"a":0.42,"b":0.2,"c":0.66,"d":0.15,"e":0.16,"f":0.09,"g":0.1,"h":0.14,"i":0.2,"j":0.15,"k":0.07,"l":0.03,"n":0.03,"p":0.03,"q":0.02},
{"t":232,"P":2.55,"a":0.12,"b":0.09,"c":0.42,"d":0.07,"e":0.08,"f":0,"g":0.04,"h":0.03,"i":0.1,"j":0.05,"k":0.03,"l":0,"n":0.01,"p":0.01,"q":0},
{"t":233,"P":1.0,"a":0,"b":0,"c":0.14,"d":0,"e":0,"g":0,"h":0,"i":0,"j":0,"k":0,"n":0,"p":0},
{"t":234,"P":0,"c":0},{"t":235,"P":0,"r":0},{"t":236,"P":0},{"t":237,"P":0},{"t":238,"P":0},{"t":239,"P":0},{"t":240,"P":0},

{"t":241,"P":0,"r":0},{"t":242,"P":0.1},{"t":243,"P":0.33,"m":0,"o":0},{"t":244,"P":1.14,"a":0,"m":0.04,"o":0.05},{"t":245,"P":2.67,"a":0.12,"f":0,"h":0,"m":0.08,"o":0.1},
{"t":246,"P":4.1,"a":0.3,"b":0,"c":0,"d":0,"f":0.06,"h":0.08,"j":0,"l":0,"m":0.12,"n":0,"o":0.15,"q":0},
{"t":247,"P":5.62,"a":0.52,"b":0.08,"c":0.1,"d":0.06,"e":0,"f":0.14,"g":0,"h":0.18,"i":0,"j":0.08,"k":0,"l":0.03,"m":0.15,"n":0.02,"o":0.18,"p":0,"q":0.01},
{"t":248,"P":7.15,"a":0.74,"b":0.17,"c":0.3,"d":0.13,"e":0.08,"f":0.22,"g":0.06,"h":0.28,"i":0.07,"j":0.17,"k":0.04,"l":0.06,"m":0.16,"n":0.04,"o":0.2,"p":0.02,"q":0.03},
{"t":249,"P":8.39,"a":0.92,"b":0.26,"c":0.5,"d":0.2,"e":0.15,"f":0.28,"g":0.12,"h":0.36,"i":0.15,"j":0.26,"k":0.08,"l":0.09,"m":0.16,"n":0.06,"o":0.2,"p":0.04,"q":0.04},
{"t":250,"P":9.41,"a":1.05,"b":0.33,"c":0.68,"d":0.26,"e":0.21,"f":0.32,"g":0.17,"h":0.41,"i":0.23,"j":0.33,"k":0.12,"l":0.11,"m":0.14,"n":0.07,"o":0.17,"p":0.05,"q":0.05},
{"t":251,"P":9.41,"a":1.1,"b":0.38,"c":0.82,"d":0.29,"e":0.25,"f":0.33,"g":0.21,"h":0.42,"i":0.3,"j":0.37,"k":0.14,"l":0.12,"m":0.11,"n":0.08,"o":0.13,"p":0.06,"q":0.05},
{"t":252,"P":8.58,"a":1.05,"b":0.4,"c":0.91,"d":0.3,"e":0.27,"f":0.31,"g":0.22,"h":0.4,"i":0.34,"j":0.37,"k":0.15,"l":0.11,"m":0.07,"n":0.08,"o":0.08,"p":0.06,"q":0.05},
{"t":253,"P":7.24,"a":0.9,"b":0.37,"c":0.92,"d":0.28,"e":0.26,"f":0.26,"g":0.2,"h":0.34,"i":0.34,"j":0.33,"k":0.14,"l":0.09,"m":0.03,"n":0.07,"o":0.03,"p":0.05,"q":0.04},
{"t":254,"P":5.81,"a":0.68,"b":0.3,"c":0.84,"d":0.22,"e":0.22,"f":0.18,"g":0.16,"h":0.25,"i":0.29,"j":0.25,"k":0.11,"l":0.06,"m":0,"n":0.05,"o":0,"p":0.04,"q":0.03},
{"t":255,"P":4.29,"a":0.42,"b":0.2,"c":0.66,"d":0.15,"e":0.16,"f":0.09,"g":0.1,"h":0.14,"i":0.2,"j":0.15,"k":0.07,"l":0.03,"n":0.03,"p":0.03,"q":0.02},
{"t":256,"P":2.67,"a":0.12,"b":0.09,"c":0.42,"d":0.07,"e":0.08,"f":0,"g":0.04,"h":0.03,"i":0.1,"j":0.05,"k":0.03,"l":0,"n":0.01,"p":0.01,"q":0},
{"t":257,"P":1.05,"a":0,"b":0,"c":0.14,"d":0,"e":0,"g":0,"h":0,"i":0,"j":0,"k":0,"n":0,"p":0},
{"t":258,"P":0,"c":0},{"t":259,"P":0,"r":0},{"t":260,"P":0},{"t":261,"P":0},{"t":262,"P":0},{"t":263,"P":0},{"t":264,"P":0},

{"t":265,"P":0,"r":0},{"t":266,"P":0.1},{"t":267,"P":0.35,"m":0,"o":0},{"t":268,"P":1.2,"a":0,"m":0.04,"o":0.05},{"t":269,"P":2.8,"a":0.12,"f":0,"h":0,"m":0.08,"o":0.1},
{"t":270,"P":4.3,"a":0.3,"b":0,"c":0,"d":0,"f":0.06,"h":0.08,"j":0,"l":0,"m":0.12,"n":0,"o":0.15,"q":0},
{"t":271,"P":5.9,"a":0.52,"b":0.08,"c":0.1,"d":0.06,"e":0,"f":0.14,"g":0,"h":0.18,"i":0,"j":0.08,"k":0,"l":0.03,"m":0.15,"n":0.02,"o":0.18,"p":0,"q":0.01},
{"t":272,"P":7.5,"a":0.74,"b":0.17,"c":0.3,"d":0.13,"e":0.08,"f":0.22,"g":0.06,"h":0.28,"i":0.07,"j":0.17,"k":0.04,"l":0.06,"m":0.16,"n":0.04,"o":0.2,"p":0.02,"q":0.03},
{"t":273,"P":8.8,"a":0.92,"b":0.26,"c":0.5,"d":0.2,"e":0.15,"f":0.28,"g":0.12,"h":0.36,"i":0.15,"j":0.26,"k":0.08,"l":0.09,"m":0.16,"n":0.06,"o":0.2,"p":0.04,"q":0.04},
{"t":274,"P":9.87,"a":1.05,"b":0.33,"c":0.68,"d":0.26,"e":0.21,"f":0.32,"g":0.17,"h":0.41,"i":0.23,"j":0.33,"k":0.12,"l":0.11,"m":0.14,"n":0.07,"o":0.17,"p":0.05,"q":0.05},
{"t":275,"P":9.87,"a":1.1,"b":0.38,"c":0.82,"d":0.29,"e":0.25,"f":0.33,"g":0.21,"h":0.42,"i":0.3,"j":0.37,"k":0.14,"l":0.12,"m":0.11,"n":0.08,"o":0.13,"p":0.06,"q":0.05},
{"t":276,"P":9.0,"a":1.05,"b":0.4,"c":0.91,"d":0.3,"e":0.27,"f":0.31,"g":0.22,"h":0.4,"i":0.34,"j":0.37,"k":0.15,"l":0.11,"m":0.07,"n":0.08,"o":0.08,"p":0.06,"q":0.05},
{"t":277,"P":7.6,"a":0.9,"b":0.37,"c":0.92,"d":0.28,"e":0.26,"f":0.26,"g":0.2,"h":0.34,"i":0.34,"j":0.33,"k":0.14,"l":0.09,"m":0.03,"n":0.07,"o":0.03,"p":0.05,"q":0.04},
{"t":278,"P":6.1,"a":0.68,"b":0.3,"c":0.84,"d":0.22,"e":0.22,"f":0.18,"g":0.16,"h":0.25,"i":0.29,"j":0.25,"k":0.11,"l":0.06,"m":0,"n":0.05,"o":0,"p":0.04,"q":0.03},
{"t":279,"P":4.5,"a":0.42,"b":0.2,"c":0.66,"d":0.15,"e":0.16,"f":0.09,"g":0.1,"h":0.14,"i":0.2,"j":0.15,"k":0.07,"l":0.03,"n":0.03,"p":0.03,"q":0.02},
{"t":280,"P":2.8,"a":0.12,"b":0.09,"c":0.42,"d":0.07,"e":0.08,"f":0,"g":0.04,"h":0.03,"i":0.1,"j":0.05,"k":0.03,"l":0,"n":0.01,"p":0.01,"q":0},
{"t":281,"P":1.1,"a":0,"b":0,"c":0.14,"d":0,"e":0,"g":0,"h":0,"i":0,"j":0,"k":0,"n":0,"p":0},
{"t":282,"P":0,"c":0},{"t":283,"P":0,"r":0},{"t":284,"P":0},{"t":285,"P":0},{"t":286,"P":0},{"t":287,"P":0},{"t":288,"P":0},

{"t":289,"P":0,"r":0},{"t":290,"P":0.1},{"t":291,"P":0.35,"m":0,"o":0},{"t":292,"P":1.2,"a":0,"m":0.04,"o":0.05},{"t":293,"P":2.8,"a":0.12,"f":0,"h":0,"m":0.08,"o":0.1},
{"t":294,"P":4.3,"a":0.3,"b":0,"c":0,"d":0,"f":0.06,"h":0.08,"j":0,"l":0,"m":0.12,"n":0,"o":0.15,"q":0},
{"t":295,"P":5.9,"a":0.52,"b":0.08,"c":0.1,"d":0.06,"e":0,"f":0.14,"g":0,"h":0.18,"i":0,"j":0.08,"k":0,"l":0.03,"m":0.15,"n":0.02,"o":0.18,"p":0,"q":0.01},
{"t":296,"P":7.5,"a":0.74,"b":0.17,"c":0.3,"d":0.13,"e":0.08,"f":0.22,"g":0.06,"h":0.28,"i":0.07,"j":0.17,"k":0.04,"l":0.06,"m":0.16,"n":0.04,"o":0.2,"p":0.02,"q":0.03},
{"t":297,"P":8.8,"a":0.92,"b":0.26,"c":0.5,"d":0.2,"e":0.15,"f":0.28,"g":0.12,"h":0.36,"i":0.15,"j":0.26,"k":0.08,"l":0.09,"m":0.16,"n":0.06,"o":0.2,"p":0.04,"q":0.04},
{"t":298,"P":9.87,"a":1.05,"b":0.33,"c":0.68,"d":0.26,"e":0.21,"f":0.32,"g":0.17,"h":0.41,"i":0.23,"j":0.33,"k":0.12,"l":0.11,"m":0.14,"n":0.07,"o":0.17,"p":0.05,"q":0.05},
{"t":299,"P":9.87,"a":1.1,"b":0.38,"c":0.82,"d":0.29,"e":0.25,"f":0.33,"g":0.21,"h":0.42,"i":0.3,"j":0.37,"k":0.14,"l":0.12,"m":0.11,"n":0.08,"o":0.13,"p":0.06,"q":0.05},
{"t":300,"P":9.0,"a":1.05,"b":0.4,"c":0.91,"d":0.3,"e":0.27,"f":0.31,"g":0.22,"h":0.4,"i":0.34,"j":0.37,"k":0.15,"l":0.11,"m":0.07,"n":0.08,"o":0.08,"p":0.06,"q":0.05},
{"t":301,"P":7.6,"a":0.9,"b":0.37,"c":0.92,"d":0.28,"e":0.26,"f":0.26,"g":0.2,"h":0.34,"i":0.34,"j":0.33,"k":0.14,"l":0.09,"m":0.03,"n":0.07,"o":0.03,"p":0.05,"q":0.04},
{"t":302,"P":6.1,"a":0.68,"b":0.3,"c":0.84,"d":0.22,"e":0.22,"f":0.18,"g":0.16,"h":0.25,"i":0.29,"j":0.25,"k":0.11,"l":0.06,"m":0,"n":0.05,"o":0,"p":0.04,"q":0.03},
{"t":303,"P":4.5,"a":0.42,"b":0.2,"c":0.66,"d":0.15,"e":0.16,"f":0.09,"g":0.1,"h":0.14,"i":0.2,"j":0.15,"k":0.07,"l":0.03,"n":0.03,"p":0.03,"q":0.02},
{"t":304,"P":2.8,"a":0.12,"b":0.09,"c":0.42,"d":0.07,"e":0.08,"f":0,"g":0.04,"h":0.03,"i":0.1,"j":0.05,"k":0.03,"l":0,"n":0.01,"p":0.01,"q":0},
{"t":305,"P":1.1,"a":0,"b":0,"c":0.14,"d":0,"e":0,"g":0,"h":0,"i":0,"j":0,"k":0,"n":0,"p":0},
{"t":306,"P":0,"c":0},{"t":307,"P":0,"r":0},{"t":308,"P":0},{"t":309,"P":0},{"t":310,"P":0},{"t":311,"P":0},{"t":312,"P":0},

{"t":313,"P":0,"r":0},{"t":314,"P":0.1},{"t":315,"P":0.35,"m":0,"o":0},{"t":316,"P":1.2,"a":0,"m":0.04,"o":0.05},{"t":317,"P":2.8,"a":0.12,"f":0,"h":0,"m":0.08,"o":0.1},
{"t":318,"P":4.3,"a":0.3,"b":0,"c":0,"d":0,"f":0.06,"h":0.08,"j":0,"l":0,"m":0.12,"n":0,"o":0.15,"q":0},
{"t":319,"P":5.9,"a":0.52,"b":0.08,"c":0.1,"d":0.06,"e":0,"f":0.14,"g":0,"h":0.18,"i":0,"j":0.08,"k":0,"l":0.03,"m":0.15,"n":0.02,"o":0.18,"p":0,"q":0.01},
{"t":320,"P":7.5,"a":0.74,"b":0.17,"c":0.3,"d":0.13,"e":0.08,"f":0.22,"g":0.06,"h":0.28,"i":0.07,"j":0.17,"k":0.04,"l":0.06,"m":0.16,"n":0.04,"o":0.2,"p":0.02,"q":0.03},
{"t":321,"P":8.8,"a":0.92,"b":0.26,"c":0.5,"d":0.2,"e":0.15,"f":0.28,"g":0.12,"h":0.36,"i":0.15,"j":0.26,"k":0.08,"l":0.09,"m":0.16,"n":0.06,"o":0.2,"p":0.04,"q":0.04},
{"t":322,"P":9.87,"a":1.05,"b":0.33,"c":0.68,"d":0.26,"e":0.21,"f":0.32,"g":0.17,"h":0.41,"i":0.23,"j":0.33,"k":0.12,"l":0.11,"m":0.14,"n":0.07,"o":0.17,"p":0.05,"q":0.05},
{"t":323,"P":9.87,"a":1.1,"b":0.38,"c":0.82,"d":0.29,"e":0.25,"f":0.33,"g":0.21,"h":0.42,"i":0.3,"j":0.37,"k":0.14,"l":0.12,"m":0.11,"n":0.08,"o":0.13,"p":0.06,"q":0.05},
{"t":324,"P":9.0,"a":1.05,"b":0.4,"c":0.91,"d":0.3,"e":0.27,"f":0.31,"g":0.22,"h":0.4,"i":0.34,"j":0.37,"k":0.15,"l":0.11,"m":0.07,"n":0.08,"o":0.08,"p":0.06,"q":0.05},
{"t":325,"P":7.6,"a":0.9,"b":0.37,"c":0.92,"d":0.28,"e":0.26,"f":0.26,"g":0.2,"h":0.34,"i":0.34,"j":0.33,"k":0.14,"l":0.09,"m":0.03,"n":0.07,"o":0.03,"p":0.05,"q":0.04},
{"t":326,"P":6.1,"a":0.68,"b":0.3,"c":0.84,"d":0.22,"e":0.22,"f":0.18,"g":0.16,"h":0.25,"i":0.29,"j":0.25,"k":0.11,"l":0.06,"m":0,"n":0.05,"o":0,"p":0.04,"q":0.03},
{"t":327,"P":4.5,"a":0.42,"b":0.2,"c":0.66,"d":0.15,"e":0.16,"f":0.09,"g":0.1,"h":0.14,"i":0.2,"j":0.15,"k":0.07,"l":0.03,"n":0.03,"p":0.03,"q":0.02},
{"t":328,"P":2.8,"a":0.12,"b":0.09,"c":0.42,"d":0.07,"e":0.08,"f":0,"g":0.04,"h":0.03,"i":0.1,"j":0.05,"k":0.03,"l":0,"n":0.01,"p":0.01,"q":0},
{"t":329,"P":1.1,"a":0,"b":0,"c":0.14,"d":0,"e":0,"g":0,"h":0,"i":0,"j":0,"k":0,"n":0,"p":0},
{"t":330,"P":0,"c":0},{"t":331,"P":0,"r":0},{"t":332,"P":0},{"t":333,"P":0},{"t":334,"P":0},{"t":335,"P":0},{"t":336,"P":0,"r":0}
]},
"layer":[
{"transform":[{"fold":["a","b","c","d","e","f","g","h","i","j","k","l","m","n","o","p","q","r"],"as":["s","v"]},{"filter":"isValid(datum.v)"}],
 "mark":{"type":"line","interpolate":"monotone","strokeWidth":3},
 "encoding":{
  "x":{"field":"t","type":"quantitative","scale":{"domain":[1,336],"nice":false,"zero":false},
   "axis":{"orient":"bottom","values":[50,100,150,200,250,300],"grid":true,"gridColor":"#dedede","gridWidth":2,"domain":false,"ticks":true,"tickSize":-22,"labelFontSize":82,"labelPadding":144,"labelBaseline":"alphabetic","title":"time [hours]","titleFont":"Liberation Serif","titleFontWeight":"bold","titleFontSize":89,"titleX":2183,"titleY":233,"titleAlign":"right","titleAnchor":null,"titleBaseline":"alphabetic"}},
  "y":{"field":"v","type":"quantitative","scale":{"domain":[0,10],"nice":false},
   "axis":{"orient":"left","values":[0,2,4,6,8,10],"grid":true,"gridColor":"#dedede","gridWidth":2,"domain":false,"ticks":true,"tickSize":-22,"labelFontSize":82,"labelPadding":56,"labelBaseline":"middle","title":["Aggregation of power profiles","of each PV plant [MW]"],"titleFont":"Liberation Serif","titleFontWeight":"bold","titleFontSize":90,"titleLineHeight":103,"titleAngle":-90,"titleX":-267,"titleY":516,"titleAlign":"center","titleBaseline":"alphabetic"}},
  "color":{"field":"s","type":"nominal","legend":null,"scale":{"domain":["a","b","c","d","e","f","g","h","i","j","k","l","m","n","o","p","q","r"],"range":["#0072BD","#D95319","#EDB120","#7E2F8E","#77AC30","#4DBEEE","#A2142F","#0072BD","#D95319","#EDB120","#7E2F8E","#77AC30","#4DBEEE","#A2142F","#0072BD","#D95319","#EDB120","#4DBEEE"]}}
 }},
{"mark":{"type":"line","interpolate":"monotone","strokeWidth":9,"strokeJoin":"round","strokeCap":"round","color":"#000000"},
 "encoding":{
  "x":{"field":"t","type":"quantitative","axis":{"orient":"top","values":[50,100,150,200,250,300],"grid":false,"domain":false,"labels":false,"ticks":true,"tickSize":-22,"title":"×10","titleFont":"Liberation Sans","titleFontWeight":"normal","titleFontSize":82,"titleX":11,"titleY":-19,"titleAlign":"left","titleBaseline":"alphabetic"}},
  "y":{"field":"P","type":"quantitative","axis":{"orient":"right","values":[0,2,4,6,8,10],"grid":false,"domain":false,"labels":false,"ticks":true,"tickSize":-22,"title":"5","titleAngle":0,"titleFont":"Liberation Sans","titleFontWeight":"normal","titleFontSize":60,"titleX":-2020,"titleY":-64,"titleAlign":"left","titleBaseline":"alphabetic"}}
 }}
]
}
